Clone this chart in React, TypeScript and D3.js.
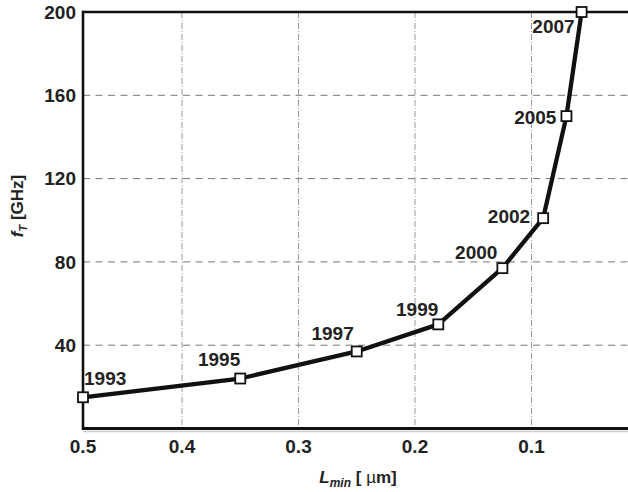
import React from "react";
import * as d3 from "d3";

const years = ["1993", "1995", "1997", "1999", "2000", "2002", "2005", "2007"];
const lmin = [0.5, 0.35, 0.25, 0.18, 0.125, 0.09, 0.07, 0.057];
const ft = [15, 24, 37, 50, 77, 101, 150, 200];
const xTicks = [0.5, 0.4, 0.3, 0.2, 0.1, 0];
const xGrid = [0.4, 0.3, 0.2, 0.1];
const yTicks = [40, 80, 120, 160, 200];
const yGrid = [40, 80, 120, 160];
// label placement (layout only)
const labelAnchor = ["start", "end", "end", "end", "end", "end", "end", "end"];
const labelDx = [1, 0, -3, 0, -5, -13, -10, -7];
const labelDy = [-12, -13, -11, -8, -9, 5, 8, 21];

export default function App() {
  const W = 628, H = 492;
  const left = 83, top = 12, bottom = 428.5, right = 648;
  const x = d3.scaleLinear().domain([0.5, 0.4, 0]).range([left, 182, right]);
  const y = d3.scaleLinear().domain([0, 200]).range([bottom, top]);
  const line = d3.line<number>().x((_, i) => x(lmin[i])).y((d) => y(d));
  const font = "'Liberation Sans', Arial, Helvetica, sans-serif";
  return (
    <svg width={W} height={H} style={{ position: "absolute", left: 0, top: 0, background: "#fff" }} fontFamily={font}>
      {/* grid */}
      {yGrid.map((v) => (
        <line key={"gy" + v} x1={left} x2={W} y1={y(v)} y2={y(v)} stroke="#777" strokeWidth={1} strokeDasharray="7,5.5" />
      ))}
      {xGrid.map((v) => (
        <line key={"gx" + v} x1={x(v)} x2={x(v)} y1={top} y2={bottom} stroke="#999" strokeWidth={1} strokeDasharray="6,2,1,2" />
      ))}
      {/* frame */}
      <line x1={left} x2={W} y1={bottom + 3} y2={bottom + 3} stroke="#ccc" strokeWidth={1.5} />
      <line x1={left - 1} x2={W} y1={bottom} y2={bottom} stroke="#111" strokeWidth={3} />
      <line x1={left - 1} x2={W} y1={top} y2={top} stroke="#111" strokeWidth={2.6} />
      <line x1={left} x2={left} y1={top - 1.3} y2={bottom + 1.5} stroke="#111" strokeWidth={2.6} />
      {/* data line */}
      <path d={line(ft) || ""} fill="none" stroke="#111" strokeWidth={4.3} strokeLinejoin="round" />
      {ft.map((v, i) => (
        <rect key={"m" + i} x={x(lmin[i]) - 5} y={y(v) - 5} width={10} height={10} fill="#fff" stroke="#111" strokeWidth={1.8} />
      ))}
      {ft.map((v, i) => (
        <text key={"l" + i} x={x(lmin[i]) + labelDx[i]} y={y(v) + labelDy[i]} textAnchor={labelAnchor[i] as any} fontSize={19} fontWeight="bold" fill="#222">
          {years[i]}
        </text>
      ))}
      {/* y tick labels */}
      {yTicks.map((v) => (
        <text key={"ty" + v} x={76} y={y(v)} dy="0.35em" textAnchor="end" fontSize={19} fontWeight="bold" fill="#222">
          {v}
        </text>
      ))}
      {/* x tick labels */}
      {xTicks.map((v) => (
        <text key={"tx" + v} x={x(v)} y={453} textAnchor="middle" fontSize={19} fontWeight="bold" fill="#222">
          {v === 0 ? "0" : String(v)}
        </text>
      ))}
      {/* axis titles */}
      <text transform="translate(23,206) rotate(-90)" textAnchor="middle" fontSize={17} fontWeight="bold" fill="#222">
        <tspan fontStyle="italic">f</tspan>
        <tspan fontStyle="italic" fontSize={11} dy={4}>T</tspan>
        <tspan dy={-4}>{"  [GHz]"}</tspan>
      </text>
      <text x={358} y={483} textAnchor="middle" fontSize={17} fontWeight="bold" fill="#222">
        <tspan fontStyle="italic">L</tspan>
        <tspan fontStyle="italic" fontSize={12} dy={4}>min</tspan>
        <tspan dy={-4}>{" ["}</tspan>
        <tspan fontWeight="normal">{" µ"}</tspan>
        <tspan>{"m]"}</tspan>
      </text>
    </svg>
  );
}
